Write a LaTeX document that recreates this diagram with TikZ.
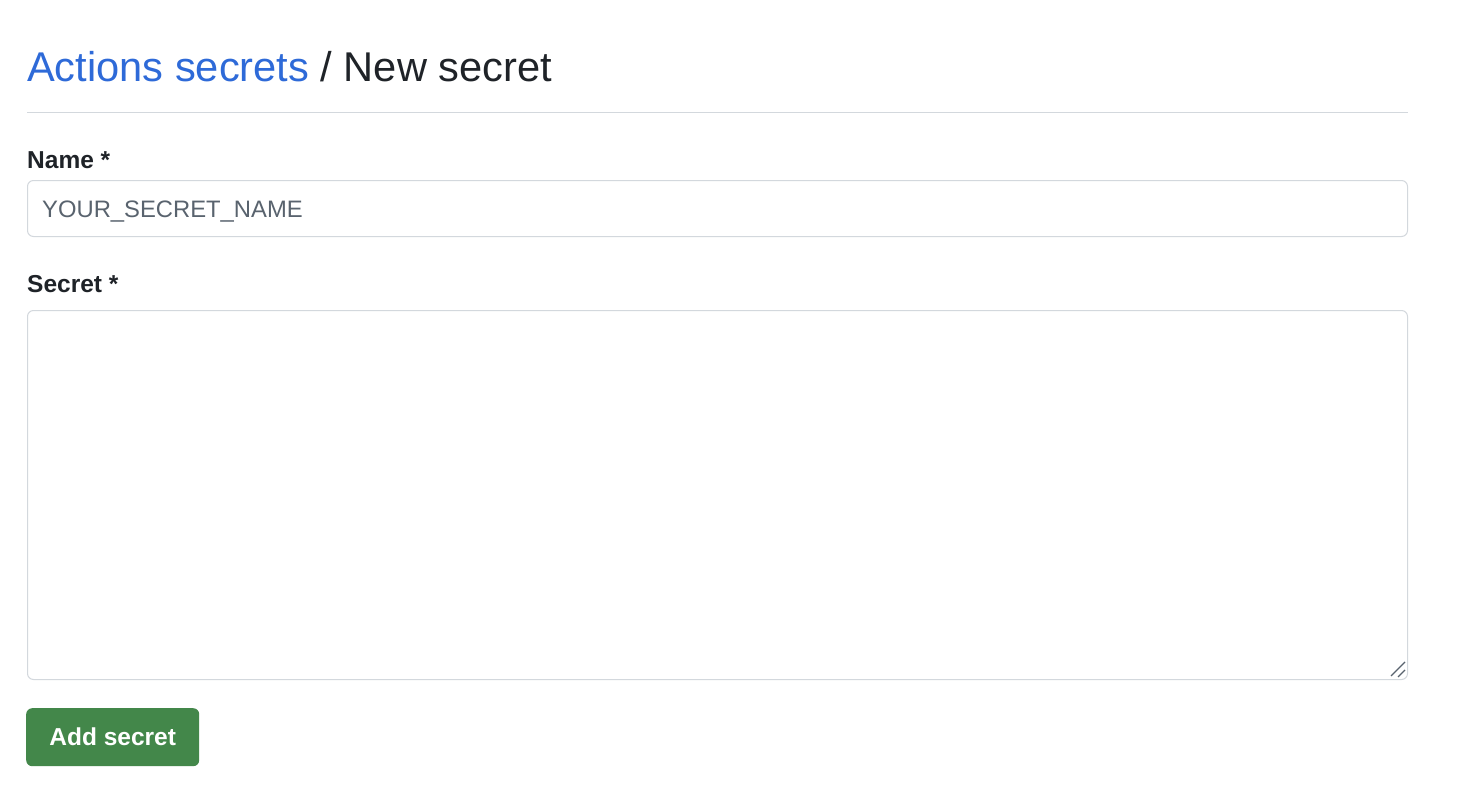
\documentclass[tikz,border=0pt]{standalone}
\usepackage{fontspec}
\setmainfont{Liberation Sans}
\usepackage{tikz}

\definecolor{linkblue}{HTML}{2E6AD8}
\definecolor{fgdark}{HTML}{1F2328}
\definecolor{bordergray}{HTML}{D3D8DD}
\definecolor{hintgray}{HTML}{59636E}
\definecolor{btngreen}{HTML}{43874A}

\begin{document}
\begin{tikzpicture}[x=1pt,y=-1pt,
	field/.style={draw=bordergray,line width=1pt,rounded corners=6pt,fill=white,inner sep=0pt,anchor=north west},
	lbl/.style={anchor=base west,inner sep=0pt,text=fgdark,font=\fontsize{24.5}{29}\selectfont\bfseries}]
	\useasboundingbox[fill=white] (0,0) rectangle (1460,798);
	\node[anchor=base west,inner sep=0pt,text=fgdark,font=\fontsize{41.6}{50}\selectfont] (title) at (27,81){{\color{linkblue}Actions secrets} / New secret};
	\coordinate (ruleL) at (27,112);
	\coordinate (ruleR) at (1408,112);
	\draw[bordergray,line width=1pt] (ruleL) -- (ruleR);
	\node[lbl] (namelbl) at (27,168){Name *};
	\node[field,minimum width=1380pt,minimum height=56pt] (namebox) at (27,180){};
	\node[anchor=base west,inner sep=0pt,text=hintgray,font=\fontsize{23.8}{28}\selectfont] (hint) at (42,217){YOUR\_SECRET\_NAME};
	\node[lbl] (secretlbl) at (27,292){Secret *};
	\node[field,minimum width=1380pt,minimum height=369pt] (secretbox) at (27,310){};
	\coordinate (gripA) at (1391,676);
	\coordinate (gripB) at (1405,662);
	\coordinate (gripC) at (1398,677);
	\coordinate (gripD) at (1405,670);
	\draw[hintgray,line width=1.3pt] (gripA) -- (gripB);
	\draw[hintgray,line width=1.3pt] (gripC) -- (gripD);
	\node[fill=btngreen,rounded corners=6pt,inner sep=0pt,minimum width=173pt,minimum height=58pt,anchor=north west] (addbtn) at (26,708){};
	\node[text=white,font=\fontsize{24.5}{29}\selectfont\bfseries] (addtxt) at (addbtn.center){Add secret};
\end{tikzpicture}
\end{document}
